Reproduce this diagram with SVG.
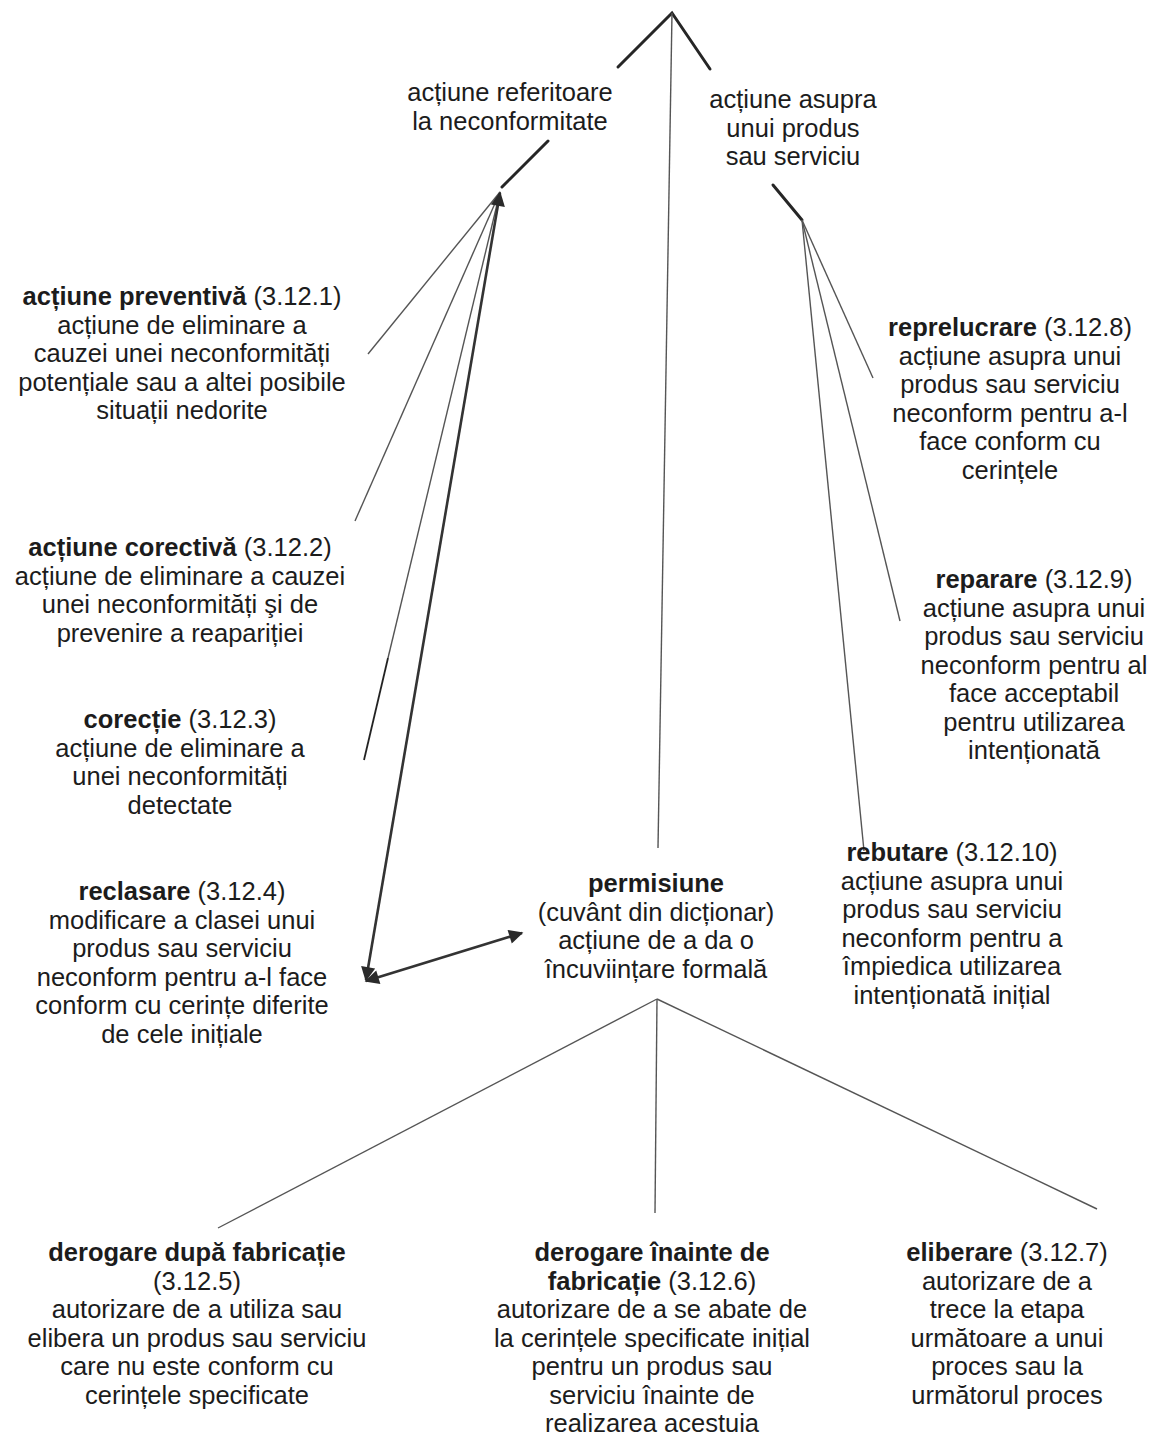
<svg xmlns="http://www.w3.org/2000/svg" width="1150" height="1441" viewBox="0 0 1150 1441">
  <style>
    text { font-family: "Liberation Sans", Arial, sans-serif; font-size: 25.5px; fill: #1c1c1c; text-anchor: middle; }
    .b { font-weight: bold; }
    .thick { stroke: #262626; stroke-width: 3; fill: none; stroke-linecap: round; }
    .thin { stroke: #555; stroke-width: 1.4; fill: none; }
    .arrow { stroke: #333; stroke-width: 2.6; fill: none; }
  </style>
  <defs>
    <marker id="head" viewBox="0 0 10 10" refX="9" refY="5" markerWidth="6.5" markerHeight="5.5" markerUnits="strokeWidth" orient="auto-start-reverse">
      <path d="M0,0 L10,5 L0,10 z" fill="#2a2a2a"/>
    </marker>
  </defs>
  <rect width="1150" height="1441" fill="#fff"/>

  <g id="connectors">
    <!-- top fork -->
    <polyline class="thick" points="618,67 672,13 710,69"/>
    <line class="thin" x1="672" y1="13" x2="658" y2="848"/>
    <!-- stems under the two top categories -->
    <line class="thick" x1="548" y1="141" x2="502" y2="187"/>
    <line class="thick" x1="773" y1="185" x2="802" y2="220"/>
    <!-- left fan -->
    <line class="thin" x1="500" y1="192" x2="368" y2="354"/>
    <line class="thin" x1="500" y1="192" x2="355" y2="521"/>
    <line class="thin" x1="500" y1="192" x2="388" y2="658"/>
    <line stroke="#222" stroke-width="1.8" x1="388" y1="658" x2="364" y2="760"/>
    <line class="arrow" x1="366" y1="980" x2="500" y2="193" marker-start="url(#head)" marker-end="url(#head)"/>
    <line class="arrow" x1="366" y1="981" x2="522" y2="933" marker-start="url(#head)" marker-end="url(#head)"/>
    <!-- right fan -->
    <line class="thin" x1="802" y1="220" x2="873" y2="378"/>
    <line class="thin" x1="802" y1="220" x2="900" y2="621"/>
    <line class="thin" x1="802" y1="220" x2="864" y2="851"/>
    <!-- bottom fan -->
    <line class="thin" x1="657" y1="999" x2="218" y2="1228"/>
    <line class="thin" x1="657" y1="999" x2="655" y2="1213"/>
    <line class="thin" x1="657" y1="999" x2="1097" y2="1209"/>
  </g>

  <g id="actiune-neconformitate">
    <text x="510" y="101">acțiune referitoare</text>
    <text x="510" y="130">la neconformitate</text>
  </g>

  <g id="actiune-produs">
    <text x="793" y="108">acțiune asupra</text>
    <text x="793" y="137">unui produs</text>
    <text x="793" y="165">sau serviciu</text>
  </g>

  <g id="actiune-preventiva">
    <text x="182" y="305"><tspan class="b">acțiune preventivă</tspan> (3.12.1)</text>
    <text x="182" y="333.5">acțiune de eliminare a</text>
    <text x="182" y="362">cauzei unei neconformități</text>
    <text x="182" y="390.5">potențiale sau a altei posibile</text>
    <text x="182" y="419">situații nedorite</text>
  </g>

  <g id="actiune-corectiva">
    <text x="180" y="556"><tspan class="b">acțiune corectivă</tspan> (3.12.2)</text>
    <text x="180" y="584.5">acțiune de eliminare a cauzei</text>
    <text x="180" y="613">unei neconformități şi de</text>
    <text x="180" y="641.5">prevenire a reapariției</text>
  </g>

  <g id="corectie">
    <text x="180" y="728"><tspan class="b">corecție</tspan> (3.12.3)</text>
    <text x="180" y="756.5">acțiune de eliminare a</text>
    <text x="180" y="785">unei neconformități</text>
    <text x="180" y="813.5">detectate</text>
  </g>

  <g id="reclasare">
    <text x="182" y="900"><tspan class="b">reclasare</tspan> (3.12.4)</text>
    <text x="182" y="928.5">modificare a clasei unui</text>
    <text x="182" y="957">produs sau serviciu</text>
    <text x="182" y="985.5">neconform pentru a-l face</text>
    <text x="182" y="1014">conform cu cerințe diferite</text>
    <text x="182" y="1042.5">de cele inițiale</text>
  </g>

  <g id="permisiune">
    <text x="656" y="892" class="b">permisiune</text>
    <text x="656" y="920.5">(cuvânt din dicționar)</text>
    <text x="656" y="949">acțiune de a da o</text>
    <text x="656" y="977.5">încuviințare formală</text>
  </g>

  <g id="reprelucrare">
    <text x="1010" y="336"><tspan class="b">reprelucrare</tspan> (3.12.8)</text>
    <text x="1010" y="364.5">acțiune asupra unui</text>
    <text x="1010" y="393">produs sau serviciu</text>
    <text x="1010" y="421.5">neconform pentru a-l</text>
    <text x="1010" y="450">face conform cu</text>
    <text x="1010" y="478.5">cerințele</text>
  </g>

  <g id="reparare">
    <text x="1034" y="588"><tspan class="b">reparare</tspan> (3.12.9)</text>
    <text x="1034" y="616.5">acțiune asupra unui</text>
    <text x="1034" y="645">produs sau serviciu</text>
    <text x="1034" y="673.5">neconform pentru al</text>
    <text x="1034" y="702">face acceptabil</text>
    <text x="1034" y="730.5">pentru utilizarea</text>
    <text x="1034" y="759">intenționată</text>
  </g>

  <g id="rebutare">
    <text x="952" y="861"><tspan class="b">rebutare</tspan> (3.12.10)</text>
    <text x="952" y="889.5">acțiune asupra unui</text>
    <text x="952" y="918">produs sau serviciu</text>
    <text x="952" y="946.5">neconform pentru a</text>
    <text x="952" y="975">împiedica utilizarea</text>
    <text x="952" y="1003.5">intenționată inițial</text>
  </g>

  <g id="derogare-dupa">
    <text x="197" y="1261" class="b">derogare după fabricație</text>
    <text x="197" y="1289.5">(3.12.5)</text>
    <text x="197" y="1318">autorizare de a utiliza sau</text>
    <text x="197" y="1346.5">elibera un produs sau serviciu</text>
    <text x="197" y="1375">care nu este conform cu</text>
    <text x="197" y="1403.5">cerințele specificate</text>
  </g>

  <g id="derogare-inainte">
    <text x="652" y="1261" class="b">derogare înainte de</text>
    <text x="652" y="1289.5"><tspan class="b">fabricație</tspan> (3.12.6)</text>
    <text x="652" y="1318">autorizare de a se abate de</text>
    <text x="652" y="1346.5">la cerințele specificate inițial</text>
    <text x="652" y="1375">pentru un produs sau</text>
    <text x="652" y="1403.5">serviciu înainte de</text>
    <text x="652" y="1432">realizarea acestuia</text>
  </g>

  <g id="eliberare">
    <text x="1007" y="1261"><tspan class="b">eliberare</tspan> (3.12.7)</text>
    <text x="1007" y="1289.5">autorizare de a</text>
    <text x="1007" y="1318">trece la etapa</text>
    <text x="1007" y="1346.5">următoare a unui</text>
    <text x="1007" y="1375">proces sau la</text>
    <text x="1007" y="1403.5">următorul proces</text>
  </g>
</svg>
